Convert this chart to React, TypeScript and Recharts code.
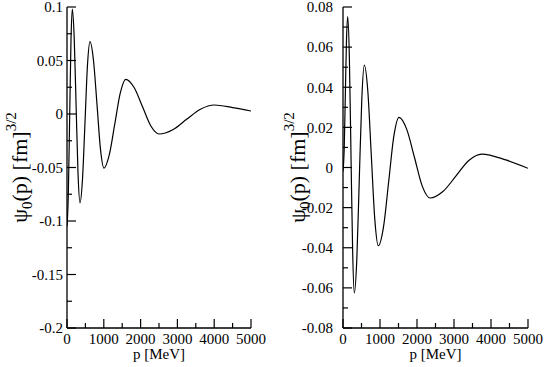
import React from 'react';
import { LineChart, Line, XAxis, YAxis } from 'recharts';

// left panel: momentum [MeV] and wave function values
const leftP = [0, 36, 72, 108, 144, 196, 248, 300, 353, 421, 489, 557, 625, 720, 815, 910, 1005, 1150, 1300, 1450, 1595, 1820, 2050, 2275, 2500, 2875, 3250, 3625, 4000, 4500, 5000];
const leftPsi = [-0.105, -0.075, -0.004, 0.068, 0.098, 0.071, 0.007, -0.056, -0.083, -0.061, -0.008, 0.046, 0.0676, 0.05, 0.009, -0.033, -0.0505, -0.038, -0.009, 0.02, 0.0324, 0.025, 0.007, -0.011, -0.0187, -0.0147, -0.005, 0.0044, 0.0084, 0.006, 0.0028];

// right panel
const rightP = [0, 32, 64, 95, 127, 172, 216, 261, 305, 373, 440, 508, 576, 671, 765, 860, 955, 1095, 1235, 1374, 1514, 1723, 1932, 2142, 2351, 2700, 3050, 3400, 3748, 4400, 5000];
const rightPsi = [-0.002, 0.009, 0.037, 0.064, 0.0752, 0.055, 0.006, -0.042, -0.0626, -0.046, -0.006, 0.034, 0.051, 0.038, 0.006, -0.026, -0.039, -0.0296, -0.007, 0.0156, 0.025, 0.019, 0.005, -0.0093, -0.0152, -0.012, -0.0043, 0.0035, 0.0067, 0.0038, -0.0004];

const xTicks = [0, 500, 1000, 1500, 2000, 2500, 3000, 3500, 4000, 4500, 5000];
const xLabels = ['0', '', '1000', '', '2000', '', '3000', '', '4000', '', '5000'];

const leftYTicks = [-0.2, -0.175, -0.15, -0.125, -0.1, -0.075, -0.05, -0.025, 0, 0.025, 0.05, 0.075, 0.1];
const leftYLabels = ['-0.2', '', '-0.15', '', '-0.1', '', '-0.05', '', '0', '', '0.05', '', '0.1'];

const rightYTicks = [-0.08, -0.07, -0.06, -0.05, -0.04, -0.03, -0.02, -0.01, 0, 0.01, 0.02, 0.03, 0.04, 0.05, 0.06, 0.07, 0.08];
const rightYLabels = ['-0.08', '', '-0.06', '', '-0.04', '', '-0.02', '', '0', '', '0.02', '', '0.04', '', '0.06', '', '0.08'];

const SERIF = 'Liberation Serif';
const MAJOR = 9;
const MINOR = 5;

const makeTick = (side: string, labels: string[], showText: boolean, gap = 4) => (props: any) => {
  const { x, y, index } = props;
  const label = labels[index] || '';
  const len = label ? MAJOR : MINOR;
  let line = null;
  let text = null;
  if (side === 'left') {
    line = <line x1={x} x2={x + len} y1={y} y2={y} stroke="#000" strokeWidth={1.2} />;
    if (showText && label) text = <text x={x - gap} y={y} dy="0.35em" textAnchor="end" style={{ fontFamily: SERIF }} fontSize={15} fill="#000">{label}</text>;
  } else if (side === 'right') {
    line = <line x1={x} x2={x - len} y1={y} y2={y} stroke="#000" strokeWidth={1.2} />;
  } else if (side === 'bottom') {
    line = <line x1={x} x2={x} y1={y} y2={y - len} stroke="#000" strokeWidth={1.2} />;
    if (showText && label) text = <text x={x} y={y + 16} textAnchor="middle" style={{ fontFamily: SERIF }} fontSize={15} fill="#000">{label}</text>;
  } else {
    line = <line x1={x} x2={x} y1={y} y2={y + len} stroke="#000" strokeWidth={1.2} />;
  }
  return <g>{line}{text}</g>;
};

const yTitle = (bx: number) => (props: any) => {
  const vb = props.viewBox;
  const cx = vb.x + bx;
  const cy = vb.y + vb.height / 2;
  return (
    <text x={cx} y={cy} transform={`rotate(-90, ${cx}, ${cy})`} textAnchor="middle" style={{ fontFamily: SERIF }} fontSize={22} fill="#000">
      <tspan>ψ</tspan>
      <tspan fontSize={15} dy={5}>0</tspan>
      <tspan dy={-5}>(p) [fm]</tspan>
      <tspan fontSize={15} dy={-11}>3/2</tspan>
    </text>
  );
};

const xTitle = (props: any) => {
  const vb = props.viewBox;
  return (
    <text x={vb.x + vb.width / 2} y={vb.y + 31} textAnchor="middle" style={{ fontFamily: SERIF }} fontSize={15} fill="#000">
      p [MeV]
    </text>
  );
};

type PanelProps = {
  ps: number[];
  vals: number[];
  yTicks: number[];
  yLabels: string[];
  domain: [number, number];
  width: number;
  yWidth: number;
  right: number;
  gap: number;
  titleX: number;
};

const Panel = ({ ps, vals, yTicks, yLabels, domain, width, yWidth, right, gap, titleX }: PanelProps) => {
  const data = ps.map((p, i) => ({ p, v: vals[i] }));
  return (
    <LineChart width={width} height={367} data={data} margin={{ top: 7, right, bottom: 0, left: 0 }}>
      <XAxis
        dataKey="p"
        type="number"
        domain={[0, 5000]}
        ticks={xTicks}
        interval={0}
        allowDataOverflow
        height={39}
        tickSize={0}
        tickMargin={0}
        tickLine={false}
        axisLine={{ stroke: '#000', strokeWidth: 1.3 }}
        tick={makeTick('bottom', xLabels, true)}
        label={{ content: xTitle }}
      />
      <XAxis
        xAxisId="top"
        orientation="top"
        dataKey="p"
        type="number"
        domain={[0, 5000]}
        ticks={xTicks}
        interval={0}
        allowDataOverflow
        height={0}
        tickSize={0}
        tickMargin={0}
        tickLine={false}
        axisLine={{ stroke: '#000', strokeWidth: 1.3 }}
        tick={makeTick('top', xLabels, false)}
      />
      <YAxis
        type="number"
        domain={domain}
        ticks={yTicks}
        interval={0}
        allowDataOverflow
        width={yWidth}
        tickSize={0}
        tickMargin={0}
        tickLine={false}
        axisLine={{ stroke: '#000', strokeWidth: 1.3 }}
        tick={makeTick('left', yLabels, true, gap)}
        label={{ content: yTitle(titleX) }}
      />
      <YAxis
        yAxisId="right"
        orientation="right"
        type="number"
        domain={domain}
        ticks={yTicks}
        interval={0}
        allowDataOverflow
        width={0}
        tickSize={0}
        tickMargin={0}
        tickLine={false}
        axisLine={{ stroke: '#000', strokeWidth: 1.3 }}
        tick={makeTick('right', yLabels, false)}
      />
      <Line type="monotone" dataKey="v" stroke="#000" strokeWidth={1.2} dot={false} isAnimationActive={false} />
      <Line xAxisId="top" yAxisId="right" type="monotone" dataKey="v" stroke="none" dot={false} isAnimationActive={false} />
    </LineChart>
  );
};

export default function App() {
  return (
    <div style={{ position: 'absolute', left: 0, top: 0, width: 545, height: 367, background: '#fff' }}>
      <div style={{ position: 'absolute', left: 0, top: 0 }}>
        <Panel ps={leftP} vals={leftPsi} yTicks={leftYTicks} yLabels={leftYLabels} domain={[-0.2, 0.1]} width={275} yWidth={67} right={24} gap={4} titleX={27} />
      </div>
      <div style={{ position: 'absolute', left: 275, top: 0 }}>
        <Panel ps={rightP} vals={rightPsi} yTicks={rightYTicks} yLabels={rightYLabels} domain={[-0.08, 0.08]} width={270} yWidth={68} right={17} gap={10} titleX={30} />
      </div>
    </div>
  );
}
